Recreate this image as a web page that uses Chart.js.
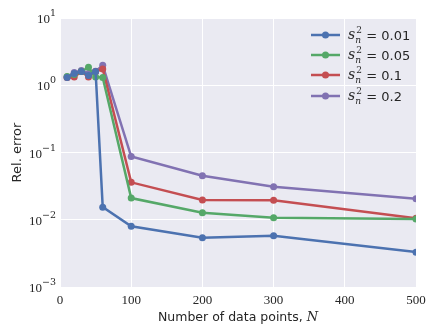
<!DOCTYPE html>
<html>
<head>
<meta charset="utf-8">
<script src="https://cdn.jsdelivr.net/npm/chart.js@4"></script>
<style>
  html, body { margin: 0; padding: 0; background: #fff; }
  #wrap { width: 436px; height: 336px; }
</style>
</head>
<body>
<div id="wrap"><canvas id="chart" width="436" height="336"></canvas></div>
<script>
// data points on the x axis
const nPoints = [10, 20, 30, 40, 50, 60, 100, 200, 300, 500];

// relative error for each noise level
const err001 = [1.30, 1.50, 1.60, 1.40, 1.60, 0.0154, 0.0080, 0.0054, 0.0058, 0.0033];
const err005 = [1.35, 1.45, 1.60, 1.85, 1.33, 1.30, 0.021, 0.0127, 0.0107, 0.0103];
const err01  = [1.30, 1.33, 1.60, 1.33, 1.60, 1.75, 0.036, 0.0197, 0.0195, 0.0105];
const err02  = [1.33, 1.55, 1.66, 1.50, 1.62, 1.98, 0.087, 0.045, 0.031, 0.0206];

const noiseLevels = ['0.01', '0.05', '0.1', '0.2'];
const colors = ['#4C72B0', '#55A868', '#C44E52', '#8172B2'];

const xTicks = [0, 100, 200, 300, 400, 500];
const yTicks = [0.001, 0.01, 0.1, 1, 10];
const yTickExps = ['\u22123', '\u22122', '\u22121', '0', '1'];

const series = [err001, err005, err01, err02];

const datasets = series.map((ys, i) => ({
  label: 's_n^2 = ' + noiseLevels[i],
  data: nPoints.map((x, j) => ({ x: x, y: ys[j] })),
  borderColor: colors[i],
  backgroundColor: colors[i],
  borderWidth: 2.5,
  pointRadius: 3.5,
  pointBorderWidth: 0,
  pointHoverRadius: 3.5,
  tension: 0
}));

// plot background, 10^k tick labels, legend with s_n^2 labels, x title with italic N
const extras = {
  id: 'extras',
  beforeDraw(chart) {
    const a = chart.chartArea, ctx = chart.ctx;
    ctx.save();
    ctx.fillStyle = '#EAEAF2';
    ctx.fillRect(a.left, a.top, a.right - a.left, a.bottom - a.top);
    ctx.restore();
  },
  afterDraw(chart) {
    const a = chart.chartArea, ctx = chart.ctx;
    const yScale = chart.scales.y;
    ctx.save();
    ctx.fillStyle = '#262626';

    // y tick labels as 10^k
    yTicks.forEach((v, k) => {
      const py = yScale.getPixelForValue(v);
      ctx.font = '9.5px "DejaVu Serif"';
      const ew = ctx.measureText(yTickExps[k]).width;
      const ex = a.left - 4 - ew;
      ctx.textBaseline = 'alphabetic';
      ctx.textAlign = 'left';
      ctx.fillText(yTickExps[k], ex, py - 2);
      ctx.font = '13px "Liberation Serif"';
      ctx.textAlign = 'right';
      ctx.fillText('10', ex, py + 5);
    });
    ctx.textAlign = 'left';

    const rowsY = [35, 55, 75, 96];
    chart.data.datasets.forEach((ds, i) => {
      const y = rowsY[i];
      const x0 = a.right - 105;
      ctx.strokeStyle = ds.borderColor;
      ctx.lineWidth = 2.5;
      ctx.beginPath();
      ctx.moveTo(x0, y);
      ctx.lineTo(x0 + 29, y);
      ctx.stroke();
      ctx.fillStyle = ds.borderColor;
      ctx.beginPath();
      ctx.arc(x0 + 14.5, y, 3.5, 0, Math.PI * 2);
      ctx.fill();

      let tx = x0 + 37;
      ctx.fillStyle = '#262626';
      ctx.textBaseline = 'alphabetic';
      ctx.font = 'italic 14px "DejaVu Serif"';
      ctx.fillText('s', tx, y + 4);
      const sw = ctx.measureText('s').width;
      ctx.font = '9px "DejaVu Serif"';
      ctx.fillText('2', tx + sw + 1, y - 2);
      ctx.font = 'italic 9px "DejaVu Serif"';
      ctx.fillText('n', tx + sw, y + 8);
      ctx.font = '13px "DejaVu Sans"';
      ctx.fillText(' = ' + noiseLevels[i], tx + sw + 7, y + 5);
    });

    // x axis title
    ctx.font = '12.5px "DejaVu Sans"';
    const t1 = 'Number of data points, ';
    const w1 = ctx.measureText(t1).width;
    ctx.font = 'italic 13px "DejaVu Serif"';
    const w2 = ctx.measureText('N').width;
    const cx = (a.left + a.right) / 2;
    let sx = cx - (w1 + w2) / 2;
    ctx.fillStyle = '#262626';
    ctx.textBaseline = 'middle';
    ctx.font = '12.5px "DejaVu Sans"';
    ctx.fillText(t1, sx, 318);
    ctx.font = 'italic 13px "DejaVu Serif"';
    ctx.fillText('N', sx + w1, 318);
    ctx.restore();
  }
};

new Chart(document.getElementById('chart').getContext('2d'), {
  type: 'line',
  data: { datasets: datasets },
  options: {
    responsive: false,
    animation: false,
    layout: { padding: { top: 18, right: 20, left: 10, bottom: 0 } },
    plugins: {
      legend: { display: false },
      tooltip: { enabled: false }
    },
    scales: {
      x: {
        type: 'linear',
        min: 0,
        max: 500,
        afterBuildTicks: s => { s.ticks = xTicks.map(v => ({ value: v })); },
        afterFit: s => { s.height = 49; },
        grid: { color: '#fff', lineWidth: 1, drawTicks: false },
        border: { display: false },
        ticks: {
          color: '#262626',
          padding: 6,
          font: { family: '"Liberation Serif"', size: 13 }
        }
      },
      y: {
        type: 'logarithmic',
        min: 0.001,
        max: 10,
        afterBuildTicks: s => { s.ticks = yTicks.map(v => ({ value: v })); },
        afterFit: s => { s.width = 50; },
        grid: { color: '#fff', lineWidth: 1, drawTicks: false },
        border: { display: false },
        title: {
          display: true,
          text: 'Rel. error',
          color: '#262626',
          padding: { top: 0, bottom: 4 },
          font: { family: '"DejaVu Sans"', size: 13 }
        },
        ticks: {
          color: '#262626',
          padding: 4,
          callback: () => ''
        }
      }
    }
  },
  plugins: [extras]
});
</script>
</body>
</html>
